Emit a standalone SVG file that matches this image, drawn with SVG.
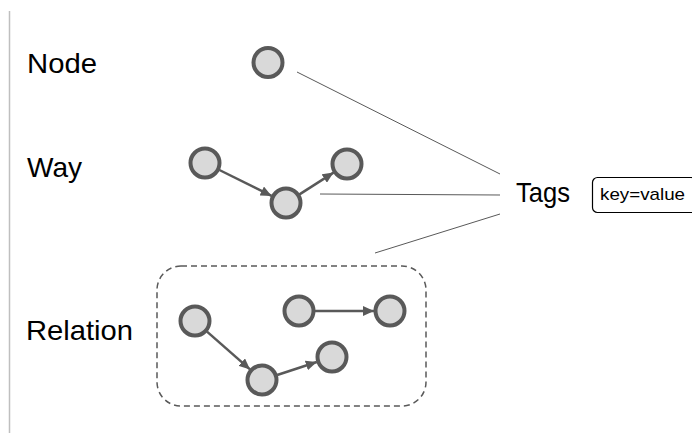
<svg xmlns="http://www.w3.org/2000/svg" width="692" height="433" viewBox="0 0 692 433">
<style>
.lbl{font-family:"Liberation Sans",Arial,sans-serif;font-size:28px;fill:#000}
.nd{fill:#d9d9d9;stroke:#595959;stroke-width:4}
.ar{stroke:#595959;stroke-width:2.5;fill:none;marker-end:url(#ah)}
.tl{stroke:#595959;stroke-width:1;fill:none}
</style>
<defs>
<marker id="ah" markerUnits="userSpaceOnUse" markerWidth="12" markerHeight="10" refX="11" refY="5" orient="auto">
<path d="M0,0 L11,5 L0,10 z" fill="#595959"/>
</marker>
</defs>
<rect width="692" height="433" fill="#fff"/>
<line x1="9.5" y1="11" x2="9.5" y2="433" stroke="#bfbfbf" stroke-width="1.5"/>
<g id="labels">
<text class="lbl" x="27" y="73" textLength="70" lengthAdjust="spacingAndGlyphs">Node</text>
<text class="lbl" x="27" y="177" textLength="55" lengthAdjust="spacingAndGlyphs">Way</text>
<text class="lbl" x="26" y="340" textLength="107" lengthAdjust="spacingAndGlyphs">Relation</text>
</g>
<g id="connectors">
<line class="tl" x1="297" y1="72" x2="500" y2="174"/>
<line class="tl" x1="320" y1="194" x2="500" y2="195"/>
<line class="tl" x1="375" y1="253" x2="500" y2="214"/>
<line class="ar" x1="219.4" y1="170" x2="271.6" y2="195.9"/>
<line class="ar" x1="299.5" y1="194.4" x2="333.5" y2="172.6"/>
<line class="ar" x1="207" y1="331.6" x2="250" y2="369.4"/>
<line class="ar" x1="277.2" y1="375" x2="316.8" y2="362"/>
<line class="ar" x1="315" y1="311" x2="374" y2="311"/>
</g>
<g id="node">
<circle class="nd" cx="268" cy="62.5" r="14.5"/>
</g>
<g id="way">
<circle class="nd" cx="205" cy="163" r="14.5"/>
<circle class="nd" cx="286" cy="203" r="14.5"/>
<circle class="nd" cx="347" cy="164" r="14.5"/>
</g>
<g id="relation">
<rect x="157" y="266" width="269" height="140" rx="24" ry="24" fill="none" stroke="#595959" stroke-width="1.5" stroke-dasharray="6,4"/>
<circle class="nd" cx="195" cy="321" r="14.5"/>
<circle class="nd" cx="262" cy="380" r="14.5"/>
<circle class="nd" cx="332" cy="357" r="14.5"/>
<circle class="nd" cx="299" cy="311" r="14.5"/>
<circle class="nd" cx="390" cy="311" r="14.5"/>
</g>
<g id="tags">
<text class="lbl" x="516" y="202" textLength="54" lengthAdjust="spacingAndGlyphs">Tags</text>
<rect x="592.5" y="177.5" width="104" height="35" rx="5" ry="5" fill="#fff" stroke="#000" stroke-width="1.2"/>
<text x="600" y="200" font-family="Liberation Sans, Arial, sans-serif" font-size="17" fill="#000" textLength="85" lengthAdjust="spacingAndGlyphs">key=value</text>
</g>
</svg>
